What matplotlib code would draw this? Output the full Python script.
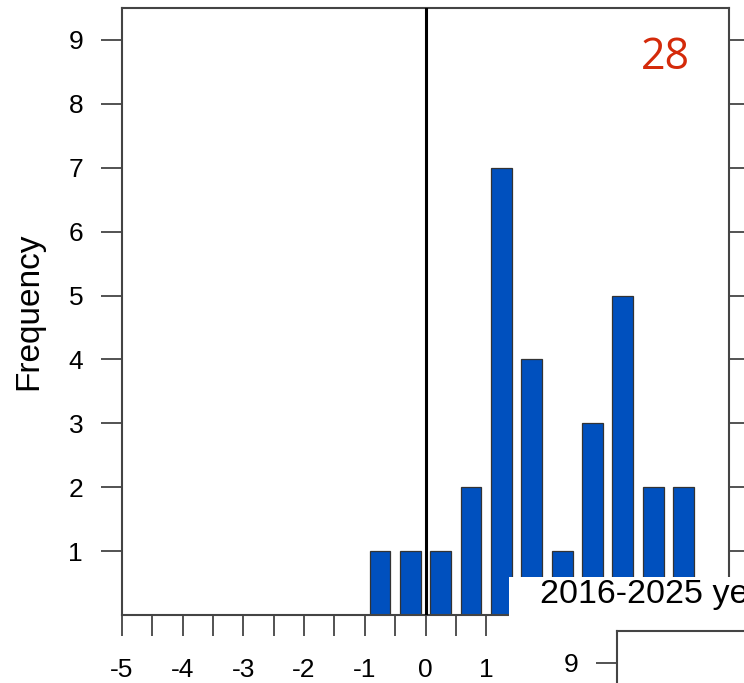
import matplotlib
matplotlib.use("Agg")
import matplotlib.pyplot as plt
from matplotlib.patches import Rectangle

# Histogram data: bin centres (0.5-wide bins) and counts
bin_centers = [-0.75, -0.25, 0.25, 0.75, 1.25, 1.75, 2.25, 2.75, 3.25, 3.75, 4.25]
counts = [1, 1, 1, 2, 7, 4, 1, 3, 5, 2, 2]
x_ticks = [-5, -4, -3, -2, -1, 0, 1, 2, 3, 4, 5]
x_minor = [-4.5, -3.5, -2.5, -1.5, -0.5, 0.5, 1.5, 2.5, 3.5, 4.5]
y_ticks = [1, 2, 3, 4, 5, 6, 7, 8, 9]
panel_number = "28"
next_title = "2016-2025 years"

W, H = 744, 683
fig = plt.figure(figsize=(W / 100, H / 100), dpi=100)
plt.rcParams['font.family'] = ['Liberation Sans', 'DejaVu Sans']

def fx(px):
    return px / W

def fy(py):
    return 1 - py / H

spine_col = "#444444"
lw_spine = 1.5
tick_fs = 19

# Main histogram panel
ax = fig.add_axes([fx(122), fy(615), fx(729) - fx(122), fy(8) - fy(615)])
ax.bar(bin_centers, counts, width=0.345, color="#0050BE", edgecolor="#333333",
       linewidth=0.9, zorder=2)
ax.axvline(0, color="black", linewidth=2.2, zorder=3)
ax.set_xlim(-5, 5)
ax.set_ylim(0, 9.5)
ax.set_xticks(x_ticks)
ax.set_xticklabels([str(v) for v in x_ticks])
ax.set_xticks(x_minor, minor=True)
ax.set_yticks(y_ticks)
ax.set_yticklabels([str(v) for v in y_ticks])
for s in ax.spines.values():
    s.set_color(spine_col)
    s.set_linewidth(lw_spine)
ax.tick_params(axis="x", which="both", direction="out", length=15, width=1.3,
               color=spine_col, labelsize=tick_fs, pad=16)
ax.tick_params(axis="y", which="both", direction="out", length=15, width=1.3,
               color=spine_col, labelsize=tick_fs, pad=13, right=True)
ax.set_ylabel("Frequency", fontsize=24)
ax.yaxis.set_label_coords(-(122 - 44) / (729 - 122), 0.5)
ax.text(fx(665), fy(58), panel_number, transform=fig.transFigure, color="#D42A0A",
        fontsize=31, ha="center", va="center", family=["Open Sans", "DejaVu Sans"])

# Title strip of the panel below, with its white background
fig.add_artist(Rectangle((fx(509), 0), 1 - fx(509), fy(577), transform=fig.transFigure,
                         facecolor="white", edgecolor="none", zorder=5))
fig.text(fx(540), fy(603), next_title, fontsize=24.5, color="black", ha="left",
         va="baseline", zorder=7)

# Top-left corner of the panel below
ax2 = fig.add_axes([fx(617), fy(631) - (fy(8) - fy(615)), fx(729) - fx(122),
                    fy(8) - fy(615)])
ax2.set_zorder(6)
ax2.set_xlim(-5, 5)
ax2.set_ylim(0, 9.5)
ax2.set_yticks([9])
ax2.set_yticklabels(["9"])
ax2.set_xticks([])
for s in ax2.spines.values():
    s.set_color(spine_col)
    s.set_linewidth(lw_spine)
ax2.tick_params(axis="y", direction="out", length=15, width=1.3, color=spine_col,
                labelsize=tick_fs, pad=13)

fig.savefig("out.png", dpi=100)
